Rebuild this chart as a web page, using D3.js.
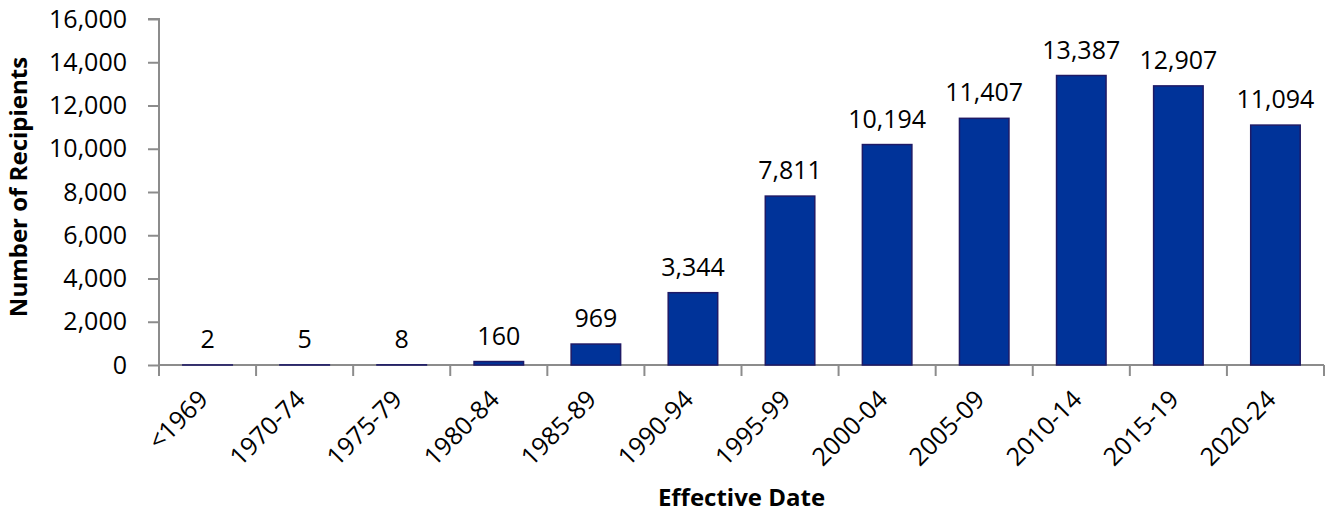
<!DOCTYPE html>
<html>
<head>
<meta charset="utf-8">
<script src="https://cdn.jsdelivr.net/npm/d3@7"></script>
<style>
  html, body { margin: 0; padding: 0; background: #fff; }
  svg { display: block; }
  text { font-family: "Open Sans", sans-serif; fill: #000; }
</style>
</head>
<body>
<svg id="chart" width="1331" height="512"></svg>
<script>
const categories = ["<1969", "1970-74", "1975-79", "1980-84", "1985-89", "1990-94", "1995-99", "2000-04", "2005-09", "2010-14", "2015-19", "2020-24"];
const recipients = [2, 5, 8, 160, 969, 3344, 7811, 10194, 11407, 13387, 12907, 11094];
const yTicks = [0, 2000, 4000, 6000, 8000, 10000, 12000, 14000, 16000];
const yTitle = "Number of Recipients";
const xTitle = "Effective Date";

const svg = d3.select("#chart");
const margin = { left: 159, right: 1324, top: 19, bottom: 365 };
const axisColor = "#8c8c8c";
const fmt = d3.format(",");

const x = d3.scaleBand().domain(categories).range([margin.left, margin.right]).paddingInner(0.49).paddingOuter(0.245);
const xBoundary = d3.scaleLinear().domain([0, categories.length]).range([margin.left, margin.right]);
const y = d3.scaleLinear().domain([0, 16000]).range([margin.bottom, margin.top]);

// Y axis
const yAxis = svg.append("g").attr("transform", `translate(${margin.left},0)`)
  .call(d3.axisLeft(y).tickValues(yTicks).tickFormat(fmt).tickSize(11).tickPadding(21));
yAxis.select(".domain").attr("stroke", axisColor).attr("stroke-width", 2).attr("d", `M0,${margin.bottom}V${margin.top}H-11`);
yAxis.selectAll(".tick line").attr("stroke", axisColor).attr("stroke-width", 2);
yAxis.selectAll(".tick text").style("font-size", "25px").attr("fill", "#000");

// X axis line + boundary ticks
const xg = svg.append("g");
xg.append("line").attr("x1", margin.left).attr("x2", margin.right)
  .attr("y1", y(0)).attr("y2", y(0)).attr("stroke", axisColor).attr("stroke-width", 2);
xg.selectAll(".xtick").data(d3.range(categories.length + 1)).join("line")
  .attr("class", "xtick")
  .attr("x1", d => xBoundary(d)).attr("x2", d => xBoundary(d))
  .attr("y1", y(0)).attr("y2", y(0) + 11)
  .attr("stroke", axisColor).attr("stroke-width", 2);

// Bars
svg.append("g").selectAll("rect").data(recipients).join("rect")
  .attr("x", (d, i) => x(categories[i]))
  .attr("width", x.bandwidth())
  .attr("y", d => y(d))
  .attr("height", d => Math.max(0, y(0) - y(d)))
  .attr("fill", "#003399")
  .attr("stroke", "#1e1a66")
  .attr("stroke-width", 1.5);

// Value labels
svg.append("g").selectAll("text").data(recipients).join("text")
  .attr("x", (d, i) => x(categories[i]) + x.bandwidth() / 2)
  .attr("y", d => y(d) - 17)
  .attr("text-anchor", "middle")
  .style("font-size", "25px")
  .text(d => fmt(d));

// Category labels
svg.append("g").selectAll("text").data(categories).join("text")
  .attr("transform", d => `translate(${x(d) + x.bandwidth() / 2 + 2},401) rotate(-45)`)
  .attr("text-anchor", "end")
  .style("font-size", "25px")
  .text(d => d);

// Axis titles
svg.append("text")
  .attr("transform", `translate(27,${(margin.top + margin.bottom) / 2 - 5}) rotate(-90)`)
  .attr("text-anchor", "middle")
  .style("font-size", "24px").style("font-weight", "bold")
  .text(yTitle);

svg.append("text")
  .attr("x", (margin.left + margin.right) / 2)
  .attr("y", 506)
  .attr("text-anchor", "middle")
  .style("font-size", "24px").style("font-weight", "bold")
  .text(xTitle);
</script>
</body>
</html>
